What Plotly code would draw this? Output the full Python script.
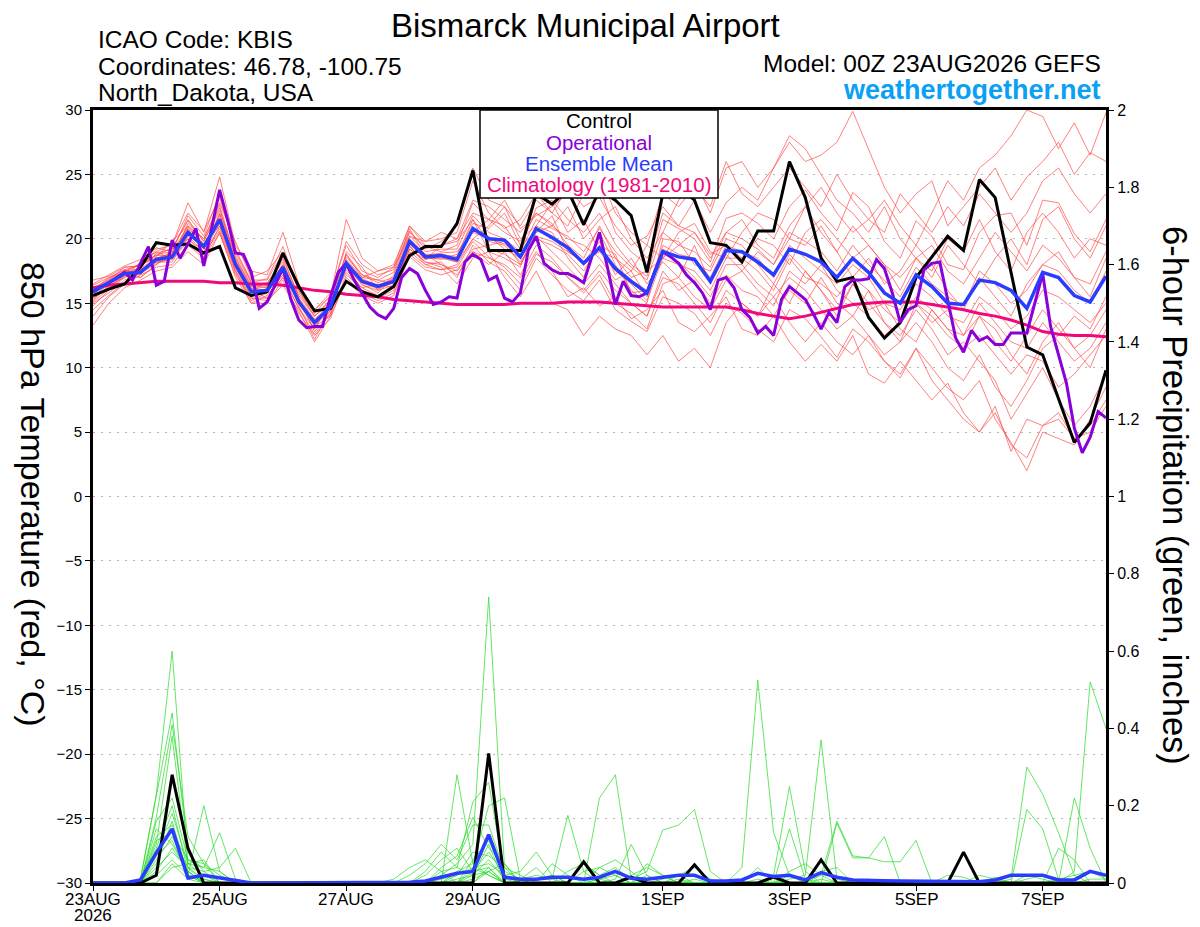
import plotly.graph_objects as go

# ---------------- time axes (hours since 00Z 23AUG2026) ----------------
hours6 = list(range(0, 385, 6))     # ensemble: 6-hourly, 65 steps
hours3 = list(range(0, 385, 3))     # operational: 3-hourly, 129 steps

tick_hours = [0, 48, 96, 144, 216, 264, 312, 360]
tick_labels = ["23AUG", "25AUG", "27AUG", "29AUG", "1SEP", "3SEP", "5SEP", "7SEP"]
year_label = "2026"
temp_ticks = [-30, -25, -20, -15, -10, -5, 0, 5, 10, 15, 20, 25, 30]
precip_ticks = [0, 0.2, 0.4, 0.6, 0.8, 1, 1.2, 1.4, 1.6, 1.8, 2]
precip_labels = ["0", "0.2", "0.4", "0.6", "0.8", "1", "1.2", "1.4", "1.6", "1.8", "2"]

# ---------------- 850 hPa temperature (°C) ----------------
control_t = [15.6, 16.1, 16.5, 17.8, 19.7, 19.5, 19.6, 18.9, 19.4, 16.2, 15.6, 15.9, 18.9,
             16.3, 14.4, 14.6, 16.7, 15.9, 15.5, 16.3, 18.7, 19.4, 19.4, 21.2, 25.3, 19.1,
             19.1, 19.1, 23.5, 22.7, 23.8, 21.1, 23.8, 23.0, 21.8, 17.4, 23.5, 24.0, 23.0,
             19.7, 19.5, 18.2, 20.6, 20.6, 26.0, 23.2, 18.5, 16.7, 17.0, 13.9, 12.3, 13.5,
             17.0, 18.6, 20.2, 19.1, 24.6, 23.2, 17.4, 11.6, 11.0, 7.6, 4.2, 5.7, 9.8]

mean_t = [15.9, 16.6, 17.3, 17.4, 18.4, 18.6, 20.5, 19.4, 21.5, 18.0, 15.9, 16.0, 17.8,
          15.1, 13.5, 14.7, 18.1, 16.7, 16.3, 16.7, 19.8, 18.6, 18.7, 18.4, 20.8, 20.0,
          19.9, 18.6, 20.8, 20.1, 19.3, 18.1, 19.3, 17.7, 16.7, 15.8, 19.0, 18.6, 18.4,
          16.7, 19.1, 19.0, 18.2, 17.2, 19.2, 18.8, 18.2, 17.0, 18.5, 17.4, 15.8, 15.0,
          17.2, 16.3, 15.0, 14.9, 16.8, 16.6, 16.0, 14.6, 17.4, 17.0, 15.6, 15.1, 17.1]

clim_t = [16.2, 16.4, 16.5, 16.6, 16.7, 16.7, 16.7, 16.7, 16.6, 16.6, 16.5, 16.5, 16.4,
          16.2, 16.0, 15.9, 15.7, 15.6, 15.5, 15.3, 15.2, 15.1, 15.0, 14.9, 14.9, 14.9,
          14.9, 15.0, 15.0, 15.0, 15.1, 15.1, 15.1, 15.0, 14.9, 14.8, 14.7, 14.7, 14.7,
          14.7, 14.7, 14.5, 14.2, 14.0, 13.8, 14.0, 14.3, 14.6, 14.9, 15.0, 15.1, 15.1,
          15.1, 14.9, 14.7, 14.5, 14.2, 14.0, 13.7, 13.3, 12.8, 12.6, 12.5, 12.5, 12.4]

oper_t = [15.9, 16.3, 16.6, 17.0, 17.4, 16.8, 18.1, 19.4, 16.4, 16.7, 19.9, 18.5, 19.6,
          20.8, 17.9, 20.9, 23.8, 21.5, 18.9, 18.8, 17.4, 14.6, 15.1, 16.4, 17.7, 15.3,
          13.7, 13.1, 13.2, 13.2, 15.5, 17.4, 18.1, 16.8, 15.8, 14.7, 14.1, 13.8, 14.6,
          17.0, 17.7, 17.3, 16.0, 14.9, 15.1, 15.5, 15.4, 18.2, 18.8, 18.4, 16.8, 17.1,
          15.4, 15.1, 15.8, 19.1, 20.2, 18.1, 17.6, 17.3, 17.3, 17.0, 16.6, 18.6, 20.5,
          17.8, 14.9, 16.7, 15.6, 15.5, 15.8, 17.5, 19.0, 18.6, 18.1, 17.2, 16.6, 15.8,
          14.5, 16.8, 17.0, 16.2, 14.5, 13.9, 12.7, 13.2, 12.5, 15.3, 16.3, 15.8, 15.3,
          14.2, 13.0, 14.3, 13.5, 16.3, 16.8, 16.8, 16.9, 18.4, 17.7, 15.8, 13.5, 14.5,
          14.8, 17.6, 18.1, 18.2, 15.3, 12.3, 11.2, 12.9, 12.1, 12.4, 11.8, 11.8, 12.7,
          12.7, 12.7, 15.0, 17.3, 13.2, 11.1, 8.8, 5.3, 3.4, 4.6, 6.6, 6.1]

members_t = [
    [14.8, 16.0, 17.0, 18.2, 19.0, 18.4, 21.2, 20.0, 22.6, 18.5, 16.3, 16.5, 18.6, 15.5, 12.8, 14.2, 19.0, 17.8, 16.0, 17.2, 20.5, 19.4, 19.0,
     19.5, 22.8, 21.5, 21.0, 19.2, 22.4, 23.0, 21.5, 20.5, 22.0, 19.6, 18.0, 17.1, 21.5, 20.8, 20.0, 18.2, 21.6,
     22.0, 21.2, 20.0, 22.5, 23.8, 22.0, 20.6, 23.6, 22.5, 19.8, 18.5, 21.4, 20.2, 18.0, 17.6, 20.5, 21.8, 22.0, 19.5, 23.0, 22.8, 20.4, 19.0, 21.5],
    [15.2, 16.4, 17.6, 17.0, 18.0, 19.2, 20.0, 18.8, 20.6, 17.4, 15.0, 15.6, 17.2, 14.6, 13.0, 15.0, 17.4, 16.0, 15.4, 16.0, 19.0, 18.0, 18.2,
     17.0, 19.5, 18.2, 17.5, 16.0, 18.5, 17.2, 16.0, 15.2, 16.8, 14.5, 13.6, 12.8, 15.5, 15.0, 14.2, 12.5, 15.0,
     14.2, 13.0, 12.0, 14.5, 13.8, 12.4, 10.8, 13.0, 12.0, 10.5, 9.2, 11.5, 10.0, 8.4, 7.5, 9.0, 6.0, 4.2, 2.0, 5.0, 4.5, 4.0, 6.0, 8.5],
    [15.6, 16.8, 17.8, 17.9, 18.8, 19.0, 21.8, 20.2, 23.5, 19.0, 16.8, 16.8, 18.9, 16.0, 14.0, 15.3, 18.8, 17.0, 17.5, 17.8, 20.2, 19.8, 20.0,
     20.5, 24.5, 22.0, 20.8, 21.5, 23.5, 22.0, 24.0, 22.5, 23.2, 21.0, 19.5, 20.2, 22.5, 21.0, 23.0, 20.5, 22.8,
     24.0, 23.0, 25.5, 27.5, 26.0, 26.5, 27.5, 29.9, 27.0, 24.0, 22.0, 23.5, 24.5, 21.0, 22.5, 24.0, 25.5, 23.0, 24.8, 26.0, 27.5, 25.0, 26.7, 26.0],
    [15.0, 15.8, 16.8, 17.5, 18.6, 19.8, 21.0, 19.6, 21.0, 18.2, 16.0, 15.4, 17.0, 15.2, 13.2, 14.0, 18.6, 17.2, 16.8, 16.5, 19.5, 18.0, 17.6,
     18.0, 20.0, 21.0, 22.5, 20.0, 21.0, 22.8, 20.5, 21.5, 19.0, 18.5, 17.5, 19.5, 18.5, 20.5, 21.2, 19.0, 18.5,
     20.5, 22.0, 21.5, 20.0, 22.5, 24.0, 22.0, 20.5, 21.5, 23.0, 21.0, 19.5, 22.0, 24.5, 23.0, 25.5, 26.5, 28.0, 30.0, 29.5, 27.0, 29.0, 26.5, 29.8],
    [14.0, 15.5, 16.5, 17.2, 17.8, 18.0, 19.5, 18.5, 21.0, 17.8, 15.5, 16.2, 18.0, 14.8, 12.2, 14.5, 17.8, 16.5, 15.8, 17.0, 20.0, 18.8, 18.0,
     17.2, 19.0, 18.5, 18.0, 17.0, 19.0, 17.5, 15.5, 16.2, 14.8, 15.5, 13.8, 14.5, 16.0, 13.5, 12.8, 14.0, 15.5,
     13.0, 12.5, 14.0, 12.0, 10.5, 11.8, 10.5, 12.5, 9.5, 8.8, 10.5, 9.0, 7.5, 8.8, 6.5, 5.0, 7.0, 3.5, 6.0, 5.5, 6.5, 4.5, 5.5, 7.5],
    [16.2, 16.8, 17.5, 18.0, 18.5, 18.8, 20.8, 19.2, 22.0, 18.6, 16.4, 16.2, 17.5, 15.8, 14.0, 15.0, 18.0, 16.4, 16.0, 16.4, 19.2, 18.4, 19.5,
     19.8, 21.5, 19.0, 18.5, 17.8, 21.0, 20.5, 18.5, 17.0, 20.5, 18.0, 16.0, 15.0, 20.0, 19.8, 18.0, 17.5, 20.0,
     19.5, 18.0, 16.5, 18.8, 17.5, 16.0, 14.5, 16.5, 15.0, 13.5, 12.0, 15.0, 14.0, 12.5, 11.5, 14.0, 13.0, 11.0, 9.5, 12.0, 13.5, 11.5, 10.0, 13.0],
    [15.4, 16.2, 17.2, 17.8, 19.2, 19.5, 22.8, 20.5, 24.8, 19.5, 17.5, 17.2, 20.5, 16.5, 14.5, 15.5, 21.5, 18.5, 17.5, 18.0, 21.0, 19.5, 19.5,
     20.0, 23.0, 22.5, 21.5, 20.5, 22.0, 21.0, 22.5, 20.0, 21.5, 22.5, 20.0, 18.5, 20.5, 23.0, 24.5, 22.0, 25.5,
     26.0, 24.0, 25.5, 28.0, 27.0, 25.0, 23.0, 22.0, 20.5, 22.5, 20.0, 18.5, 17.5, 20.0, 19.0, 21.5, 19.0, 17.5, 20.5, 22.0, 20.5, 18.5, 20.0, 19.5],
    [15.5, 16.5, 17.4, 17.6, 18.2, 18.2, 20.2, 19.0, 21.2, 17.5, 15.2, 15.8, 17.4, 15.0, 13.0, 15.2, 17.6, 16.2, 16.5, 16.2, 19.4, 18.2, 17.8,
     16.5, 18.5, 19.0, 17.0, 15.5, 17.5, 15.0, 14.5, 12.5, 14.0, 13.0, 12.5, 11.0, 12.5, 10.5, 11.5, 10.0, 13.5,
     15.0, 14.0, 16.5, 15.0, 17.5, 16.0, 14.0, 16.5, 14.5, 15.0, 13.0, 12.0, 14.5, 13.0, 11.5, 12.5, 11.0, 9.5, 11.0, 10.5, 8.5, 9.5, 11.0, 12.5],
    [16.0, 17.0, 17.6, 17.2, 18.9, 19.2, 21.5, 19.8, 22.4, 18.2, 16.0, 16.6, 18.2, 15.4, 13.8, 14.6, 18.4, 17.0, 16.8, 17.4, 20.8, 18.6, 18.4,
     18.8, 21.2, 20.8, 22.0, 19.5, 20.5, 21.8, 19.0, 18.2, 19.8, 17.2, 18.5, 16.5, 18.2, 17.0, 19.5, 16.5, 18.8,
     17.5, 19.0, 18.0, 20.0, 19.5, 21.0, 19.0, 17.0, 18.5, 16.5, 17.5, 19.5, 18.0, 16.0, 14.5, 17.0, 15.5, 14.0, 16.5, 18.0, 19.0, 17.0, 15.5, 18.5],
    [13.3, 15.0, 16.2, 16.8, 17.5, 17.8, 19.0, 18.0, 20.5, 17.0, 15.0, 15.0, 16.8, 14.2, 12.5, 13.8, 17.0, 15.8, 15.2, 15.8, 18.6, 17.6, 17.2,
     17.6, 19.2, 19.5, 19.8, 18.0, 20.2, 19.0, 17.8, 16.5, 18.0, 16.5, 15.0, 14.0, 17.5, 16.0, 16.8, 15.0, 17.2,
     16.0, 15.5, 14.0, 16.0, 15.0, 17.0, 15.0, 14.0, 16.0, 13.5, 12.5, 14.5, 13.0, 11.0, 12.0, 10.5, 9.0, 6.0, 8.0, 10.0, 7.5, 5.5, 7.0, 9.5],
    [16.5, 17.2, 17.9, 18.4, 19.3, 19.0, 21.0, 20.0, 22.8, 19.8, 17.0, 17.5, 19.0, 16.2, 14.5, 15.8, 19.5, 17.5, 17.0, 17.8, 21.0, 19.8, 20.5,
     20.0, 22.0, 21.5, 23.0, 20.8, 21.8, 22.5, 23.5, 21.0, 24.0, 20.5, 19.0, 18.0, 22.0, 21.0, 20.5, 18.5, 20.5,
     21.5, 19.5, 18.5, 21.0, 22.5, 20.5, 19.0, 21.0, 19.5, 18.0, 16.0, 18.5, 17.0, 19.5, 18.0, 16.5, 18.5, 20.0, 18.0, 21.5, 22.5, 20.0, 18.5, 21.0],
    [15.1, 16.1, 17.1, 17.0, 18.0, 18.8, 20.6, 19.6, 21.4, 18.4, 16.2, 16.0, 17.6, 15.0, 13.3, 14.4, 18.2, 16.6, 16.1, 16.6, 19.6, 18.4, 18.6,
     18.2, 20.0, 19.2, 18.8, 18.0, 20.5, 21.0, 20.0, 19.5, 18.5, 16.8, 17.5, 15.5, 19.0, 18.2, 17.0, 15.5, 18.0,
     18.0, 16.5, 15.5, 17.0, 16.0, 14.5, 13.0, 14.0, 12.5, 11.0, 12.0, 13.5, 12.0, 10.0, 9.0, 11.0, 8.5, 7.0, 9.0, 11.5, 12.5, 14.0, 13.0, 15.5],
    [15.8, 16.4, 17.0, 17.6, 18.4, 18.6, 20.4, 19.2, 21.8, 18.0, 15.6, 15.8, 17.8, 15.2, 13.6, 14.8, 17.8, 16.8, 16.4, 16.8, 19.8, 18.8, 18.8,
     18.6, 21.5, 19.8, 19.5, 18.2, 20.0, 19.5, 18.8, 17.5, 19.5, 18.8, 15.8, 16.0, 19.5, 18.8, 18.5, 17.0, 19.5,
     19.0, 18.5, 17.0, 19.5, 18.5, 17.5, 16.5, 18.0, 17.0, 15.0, 14.5, 16.5, 15.5, 14.0, 13.5, 15.5, 14.5, 13.0, 14.0, 16.0, 15.5, 14.5, 13.5, 15.0],
    [16.0, 16.9, 17.6, 18.0, 19.0, 19.6, 22.0, 20.6, 23.2, 19.2, 16.6, 16.9, 19.4, 16.0, 14.2, 15.6, 19.8, 18.0, 17.2, 17.6, 20.6, 19.2, 19.8,
     21.0, 25.5, 23.0, 22.5, 21.0, 23.0, 22.0, 21.0, 23.5, 25.0, 22.0, 20.5, 19.5, 23.5, 22.5, 24.0, 22.5, 26.0,
     23.5, 22.5, 24.0, 25.5, 24.0, 22.5, 25.0, 23.0, 21.5, 20.5, 23.5, 22.0, 20.5, 22.5, 21.0, 23.5, 22.0, 20.5, 22.0, 24.5, 25.5, 23.5, 22.0, 23.5],
    [14.5, 15.6, 16.6, 17.4, 18.2, 18.4, 19.8, 18.6, 20.4, 17.2, 15.4, 15.2, 16.4, 14.4, 12.0, 14.0, 16.8, 15.6, 15.0, 15.6, 18.8, 17.8, 17.6,
     17.8, 19.8, 18.6, 17.8, 16.5, 18.8, 18.2, 17.0, 15.8, 17.2, 15.0, 14.2, 13.0, 16.5, 17.0, 15.5, 14.5, 16.8,
     17.5, 16.0, 14.8, 17.5, 16.5, 18.0, 16.0, 15.0, 14.0, 12.5, 13.5, 15.0, 13.5, 14.5, 12.5, 14.0, 12.0, 10.5, 12.5, 14.5, 13.0, 11.5, 12.5, 14.5],
    [16.8, 17.1, 17.8, 17.9, 18.7, 19.3, 21.4, 19.8, 22.2, 18.8, 16.6, 16.4, 18.4, 15.6, 14.0, 15.2, 18.8, 17.2, 16.6, 17.0, 20.2, 19.0, 19.2,
     19.2, 21.8, 20.5, 20.0, 19.0, 21.5, 20.8, 20.2, 19.0, 20.8, 19.0, 17.8, 16.8, 20.5, 19.5, 19.0, 17.8, 20.5,
     20.0, 19.2, 18.0, 20.5, 19.8, 19.0, 17.5, 19.5, 18.0, 16.8, 15.5, 17.8, 16.5, 15.5, 14.8, 17.5, 16.5, 15.0, 16.0, 18.0, 17.5, 16.0, 15.0, 17.5],
    [15.3, 16.3, 17.2, 17.3, 18.1, 18.5, 20.0, 19.0, 20.8, 17.6, 15.4, 15.4, 17.0, 14.6, 12.6, 14.2, 17.2, 16.2, 15.6, 16.4, 19.2, 18.2, 18.0,
     17.5, 19.0, 18.0, 19.0, 17.2, 19.5, 18.5, 17.0, 16.0, 17.5, 16.0, 15.0, 14.0, 17.0, 16.5, 15.0, 13.5, 16.0,
     15.0, 14.0, 15.5, 13.5, 12.0, 13.5, 12.0, 11.0, 12.5, 10.5, 9.5, 11.5, 9.0, 7.5, 6.0, 5.0, 6.5, 4.0, 3.0, 5.5, 6.0, 4.5, 5.0, 7.0],
    [15.7, 16.7, 17.5, 17.7, 18.5, 18.9, 20.9, 19.5, 21.6, 18.3, 16.1, 16.3, 18.0, 15.3, 13.7, 15.0, 18.3, 16.9, 16.4, 16.9, 19.9, 18.7, 18.9,
     19.0, 20.5, 21.5, 20.5, 19.8, 22.0, 21.2, 19.5, 18.5, 21.0, 18.5, 17.0, 17.5, 18.5, 19.5, 20.5, 18.8, 19.5,
     18.5, 20.0, 19.5, 18.0, 20.5, 21.5, 20.0, 18.5, 19.5, 18.0, 17.0, 18.5, 19.5, 17.5, 16.5, 18.5, 20.5, 19.0, 17.5, 19.5, 18.5, 17.0, 16.5, 19.0],
    [16.4, 17.0, 17.4, 18.1, 18.7, 18.7, 20.7, 19.3, 21.9, 18.1, 15.8, 16.1, 17.9, 15.1, 13.4, 14.7, 18.0, 16.6, 16.2, 16.6, 19.7, 18.5, 18.5,
     18.2, 20.8, 20.2, 19.2, 18.5, 20.2, 19.8, 19.0, 18.2, 19.0, 17.5, 16.5, 15.2, 18.5, 18.0, 17.5, 16.0, 18.5,
     18.5, 17.5, 16.0, 18.5, 17.0, 16.5, 15.5, 17.0, 16.0, 14.5, 13.5, 15.5, 14.5, 13.0, 12.5, 15.0, 13.5, 12.0, 11.5, 13.5, 12.0, 10.5, 11.5, 13.5],
    [15.9, 16.6, 17.3, 17.5, 18.3, 18.6, 20.3, 19.4, 21.3, 18.0, 15.9, 16.0, 17.7, 15.1, 13.5, 14.7, 18.1, 16.7, 16.3, 16.7, 19.8, 18.6, 18.7,
     18.5, 20.5, 20.0, 19.6, 18.8, 20.9, 20.0, 19.5, 18.0, 19.2, 17.8, 16.8, 16.0, 19.2, 18.6, 18.4, 16.8, 19.0,
     19.0, 18.2, 17.2, 19.2, 18.8, 18.2, 17.0, 18.5, 17.4, 15.8, 15.0, 17.2, 16.3, 15.0, 14.9, 16.8, 16.6, 16.0, 14.6, 17.4, 17.0, 15.6, 15.1, 17.1],
]

# ---------------- 6-hour precipitation (inches) ----------------
control_p = [0, 0, 0, 0, 0.02, 0.28, 0.09, 0, 0, 0, 0, 0, 0,
             0, 0, 0, 0, 0, 0, 0, 0, 0, 0, 0, 0, 0.335,
             0, 0, 0, 0, 0, 0.055, 0, 0, 0.015, 0, 0, 0, 0.047,
             0, 0, 0, 0, 0.015, 0, 0, 0.06, 0, 0, 0, 0, 0,
             0, 0, 0, 0.08, 0, 0, 0, 0, 0, 0, 0, 0, 0]

mean_p = [0, 0, 0, 0.008, 0.078, 0.14, 0.013, 0.02, 0.013, 0.008, 0, 0, 0,
          0, 0, 0, 0, 0, 0, 0, 0.002, 0.005, 0.015, 0.025, 0.03, 0.125,
          0.015, 0.01, 0.01, 0.015, 0.015, 0.01, 0.015, 0.03, 0.012, 0.01, 0.015, 0.02, 0.02,
          0.005, 0.005, 0.008, 0.025, 0.017, 0.02, 0.008, 0.027, 0.015, 0.008, 0.008, 0.006, 0.005,
          0.005, 0.003, 0.004, 0.004, 0.003, 0.008, 0.02, 0.02, 0.02, 0.008, 0.008, 0.03, 0.02]

members_p = [
    [0, 0, 0, 0.01, 0.23, 0.60, 0.05, 0.02, 0, 0, 0, 0, 0,
     0, 0, 0, 0, 0, 0, 0, 0, 0, 0.02, 0.05, 0.10, 0.74,
     0.04, 0, 0.01, 0.02, 0, 0, 0.01, 0.02, 0, 0, 0.01, 0.02, 0,
     0, 0, 0.04, 0.525, 0.13, 0.02, 0, 0.01, 0, 0, 0, 0, 0,
     0, 0, 0, 0, 0, 0, 0, 0, 0, 0.01, 0.02, 0.03, 0.01],
    [0, 0, 0, 0.01, 0.23, 0.44, 0.08, 0.03, 0, 0, 0, 0, 0,
     0, 0, 0, 0, 0, 0, 0, 0, 0.03, 0.08, 0.04, 0.21, 0.26,
     0.02, 0.03, 0.08, 0.02, 0, 0, 0.22, 0.28, 0.01, 0, 0, 0, 0,
     0, 0, 0, 0, 0.02, 0.25, 0.03, 0, 0, 0, 0.01, 0, 0,
     0, 0, 0, 0, 0, 0, 0.01, 0.30, 0.23, 0.13, 0.02, 0, 0],
    [0, 0, 0, 0, 0.17, 0.41, 0.12, 0.05, 0.02, 0, 0, 0, 0,
     0, 0, 0, 0, 0, 0, 0, 0, 0, 0, 0.28, 0.05, 0.20,
     0.22, 0.01, 0.02, 0.01, 0.175, 0.03, 0, 0.01, 0.10, 0.02, 0, 0, 0.01,
     0, 0, 0, 0.01, 0, 0.01, 0.02, 0.37, 0.01, 0, 0, 0, 0,
     0, 0, 0, 0, 0, 0, 0, 0, 0, 0, 0.03, 0.52, 0.40],
    [0, 0, 0, 0, 0.10, 0.38, 0.04, 0, 0, 0, 0, 0, 0,
     0, 0, 0, 0, 0, 0, 0, 0.02, 0.05, 0.10, 0.06, 0.15, 0.15,
     0.03, 0.01, 0.04, 0, 0, 0.05, 0.02, 0.04, 0.01, 0.03, 0.137, 0.15, 0.19,
     0.03, 0, 0, 0, 0, 0.14, 0.01, 0, 0.155, 0.065, 0.065, 0.12, 0,
     0, 0, 0, 0, 0, 0, 0, 0.02, 0.01, 0, 0, 0, 0],
    [0, 0, 0, 0, 0.16, 0.22, 0.06, 0.05, 0, 0, 0, 0, 0,
     0, 0, 0, 0, 0, 0, 0, 0, 0, 0.04, 0.07, 0.17, 0.09,
     0.05, 0, 0.01, 0.01, 0, 0, 0, 0, 0, 0, 0, 0.02, 0.04,
     0.01, 0, 0, 0, 0, 0, 0, 0.02, 0.16, 0.07, 0.065, 0.055, 0.055,
     0.11, 0, 0.02, 0.015, 0, 0.015, 0, 0.19, 0.14, 0.01, 0, 0, 0],
    [0, 0, 0, 0, 0.12, 0.15, 0.02, 0.20, 0.03, 0, 0, 0, 0,
     0, 0, 0, 0, 0, 0, 0.01, 0.04, 0.06, 0.03, 0, 0.06, 0.11,
     0.02, 0, 0, 0.05, 0.02, 0, 0, 0, 0, 0.02, 0, 0.01, 0,
     0, 0, 0, 0, 0, 0, 0, 0, 0, 0, 0, 0, 0,
     0, 0, 0, 0, 0, 0, 0, 0, 0, 0.09, 0.06, 0, 0],
    [0, 0, 0, 0, 0.08, 0.18, 0.05, 0.04, 0.13, 0.01, 0, 0, 0,
     0, 0, 0, 0, 0, 0, 0, 0, 0, 0, 0.02, 0.08, 0.07,
     0.04, 0.02, 0, 0, 0, 0, 0, 0, 0, 0, 0, 0, 0,
     0, 0, 0, 0.04, 0, 0, 0, 0, 0, 0, 0, 0, 0,
     0, 0, 0, 0, 0, 0, 0, 0, 0, 0, 0.22, 0.09, 0],
    [0, 0, 0, 0, 0.06, 0.12, 0.04, 0.03, 0.04, 0.09, 0, 0, 0,
     0, 0, 0, 0, 0, 0, 0, 0, 0.02, 0.06, 0.09, 0.03, 0.04,
     0, 0, 0, 0, 0, 0, 0.01, 0, 0, 0, 0, 0, 0,
     0, 0, 0, 0, 0, 0.02, 0, 0, 0, 0, 0, 0, 0,
     0, 0, 0, 0, 0, 0, 0, 0, 0, 0, 0, 0, 0],
    [0, 0, 0, 0, 0.14, 0.10, 0.03, 0, 0, 0, 0, 0, 0,
     0, 0, 0, 0, 0, 0, 0, 0, 0, 0, 0, 0.04, 0.05,
     0.02, 0, 0, 0, 0, 0, 0, 0, 0, 0, 0, 0, 0,
     0, 0, 0, 0, 0, 0, 0, 0, 0, 0, 0, 0, 0,
     0, 0, 0, 0, 0, 0, 0, 0, 0, 0, 0, 0, 0],
    [0, 0, 0, 0, 0.04, 0.08, 0.04, 0.01, 0, 0, 0, 0, 0,
     0, 0, 0, 0, 0, 0, 0, 0, 0, 0.03, 0.04, 0.02, 0.03,
     0, 0, 0, 0, 0, 0, 0.04, 0.06, 0.03, 0, 0, 0, 0,
     0, 0, 0, 0, 0, 0.03, 0.05, 0.02, 0, 0, 0, 0, 0,
     0, 0, 0, 0, 0, 0, 0, 0, 0, 0, 0, 0, 0],
    [0, 0, 0, 0, 0.02, 0.06, 0.02, 0, 0, 0, 0, 0, 0,
     0, 0, 0, 0, 0, 0, 0, 0, 0, 0, 0, 0.02, 0.06,
     0.01, 0, 0, 0, 0, 0, 0, 0, 0, 0, 0, 0, 0,
     0, 0, 0, 0, 0, 0, 0, 0, 0, 0, 0, 0, 0,
     0, 0, 0, 0, 0, 0, 0, 0, 0, 0, 0, 0, 0],
    [0, 0, 0, 0, 0.11, 0.13, 0.06, 0.04, 0.03, 0, 0, 0, 0,
     0, 0, 0, 0, 0, 0, 0, 0, 0, 0, 0.03, 0.05, 0.02,
     0, 0, 0, 0, 0, 0, 0, 0, 0, 0.05, 0.02, 0, 0,
     0, 0, 0, 0, 0, 0, 0, 0, 0, 0, 0, 0, 0,
     0, 0, 0, 0, 0, 0, 0, 0, 0, 0, 0, 0, 0],
    [0, 0, 0, 0, 0, 0.04, 0.05, 0.06, 0, 0, 0, 0, 0,
     0, 0, 0, 0, 0, 0, 0, 0, 0, 0, 0, 0, 0.03,
     0.05, 0, 0, 0, 0, 0.03, 0.04, 0.02, 0, 0, 0, 0, 0,
     0, 0, 0, 0, 0, 0, 0, 0, 0, 0, 0, 0, 0,
     0, 0, 0, 0, 0.02, 0.01, 0, 0, 0, 0, 0, 0, 0],
    [0, 0, 0, 0, 0.09, 0.20, 0.03, 0, 0, 0, 0, 0, 0,
     0, 0, 0, 0, 0, 0, 0, 0, 0, 0, 0.01, 0.02, 0.10,
     0, 0, 0, 0, 0, 0, 0, 0, 0, 0, 0, 0, 0,
     0, 0, 0, 0, 0, 0, 0, 0, 0, 0, 0, 0, 0,
     0, 0, 0, 0, 0, 0, 0, 0, 0, 0, 0, 0, 0],
    [0, 0, 0, 0, 0, 0.05, 0.01, 0, 0, 0, 0, 0, 0,
     0, 0, 0, 0, 0, 0, 0, 0, 0, 0, 0, 0, 0.04,
     0, 0, 0, 0, 0, 0, 0, 0, 0, 0, 0, 0, 0,
     0, 0, 0, 0, 0, 0, 0, 0, 0, 0, 0, 0, 0,
     0, 0, 0, 0, 0, 0, 0, 0, 0, 0, 0, 0, 0],
    [0, 0, 0, 0, 0.05, 0.16, 0.02, 0, 0, 0, 0, 0, 0,
     0, 0, 0, 0, 0, 0, 0, 0, 0, 0.01, 0.02, 0.04, 0.02,
     0, 0, 0, 0, 0, 0, 0, 0, 0, 0, 0, 0, 0,
     0, 0, 0, 0, 0, 0, 0, 0, 0, 0, 0, 0, 0,
     0, 0, 0, 0, 0, 0, 0, 0, 0, 0, 0, 0, 0],
    [0, 0, 0, 0, 0.03, 0.09, 0.03, 0, 0, 0, 0, 0, 0,
     0, 0, 0, 0, 0, 0, 0, 0, 0, 0, 0, 0.03, 0.08,
     0.02, 0, 0, 0, 0.03, 0.05, 0.02, 0, 0.02, 0.04, 0.02, 0, 0,
     0, 0, 0, 0, 0, 0, 0, 0.03, 0.04, 0, 0, 0, 0,
     0, 0, 0, 0, 0, 0, 0, 0, 0, 0, 0, 0, 0],
    [0, 0, 0, 0, 0.07, 0.11, 0.02, 0.01, 0, 0, 0, 0, 0,
     0, 0, 0, 0, 0, 0, 0, 0, 0, 0, 0, 0.01, 0.03,
     0, 0, 0, 0, 0, 0, 0, 0, 0, 0, 0, 0, 0,
     0, 0, 0, 0, 0, 0, 0, 0, 0, 0, 0, 0, 0,
     0, 0, 0, 0, 0, 0, 0, 0.01, 0.02, 0.01, 0, 0.01, 0.01],
]

# ---------------- colours ----------------
RED = "rgba(255,70,70,0.85)"
GREEN = "rgba(40,220,40,0.9)"
BLACK = "#000000"
PURPLE = "#8a00d8"
BLUE = "#2a3cff"
MAGENTA = "#f0087c"
FONT = "Liberation Sans, Arial, Helvetica, sans-serif"

fig = go.Figure()

for m in members_t:
    fig.add_trace(go.Scatter(x=hours6, y=m, mode="lines", line=dict(color=RED, width=0.8),
                             yaxis="y", hoverinfo="skip", showlegend=False))
for m in members_p:
    fig.add_trace(go.Scatter(x=hours6, y=m, mode="lines", line=dict(color=GREEN, width=0.8),
                             yaxis="y2", hoverinfo="skip", showlegend=False))

fig.add_trace(go.Scatter(x=hours6, y=clim_t, mode="lines", line=dict(color=MAGENTA, width=3), yaxis="y", showlegend=False))
fig.add_trace(go.Scatter(x=hours6, y=control_t, mode="lines", line=dict(color=BLACK, width=3), yaxis="y", showlegend=False))
fig.add_trace(go.Scatter(x=hours3, y=oper_t, mode="lines", line=dict(color=PURPLE, width=3), yaxis="y", showlegend=False))
fig.add_trace(go.Scatter(x=hours6, y=mean_t, mode="lines", line=dict(color=BLUE, width=3.5), yaxis="y", showlegend=False))
fig.add_trace(go.Scatter(x=hours6, y=control_p, mode="lines", line=dict(color=BLACK, width=3), yaxis="y2", showlegend=False))
fig.add_trace(go.Scatter(x=hours6, y=mean_p, mode="lines", line=dict(color=BLUE, width=3.5), yaxis="y2", showlegend=False))

# page body has an 8px margin; plot area should land at page x 93..1106, y 110..883
OFF = 8
W, H = 1200 - OFF, 927 - OFF
L, T = 93 - OFF, 110 - OFF
pw, ph = 1013, 773
R, B = W - L - pw, H - T - ph


def px(sx):
    return (sx - 93) / pw


def py(sy):
    return (883 - sy) / ph


fig.update_layout(
    width=W, height=H,
    margin=dict(l=L, r=R, t=T, b=B, pad=0, autoexpand=False),
    paper_bgcolor="white", plot_bgcolor="white",
    font=dict(family=FONT, color="black"),
    showlegend=False,
    xaxis=dict(range=[0, 384], tickvals=tick_hours, ticks="outside", showticklabels=False,
               ticklen=5, tickwidth=1, tickcolor="black", showgrid=False, zeroline=False,
               showline=True, linecolor="black", linewidth=3, mirror=True, automargin=False),
    yaxis=dict(range=[-30, 30], tickvals=temp_ticks, ticks="outside", ticklen=5, tickwidth=1,
               tickcolor="black", showgrid=True, gridcolor="#b4b4b4", griddash="2px,6px", gridwidth=1,
               zeroline=False, showline=True, linecolor="black", linewidth=3, automargin=False,
               tickfont=dict(size=15, family=FONT)),
    yaxis2=dict(range=[0, 2], overlaying="y", side="right", tickvals=precip_ticks, ticktext=precip_labels,
                ticks="outside", ticklen=5, tickwidth=1, tickcolor="black", showgrid=False,
                zeroline=False, showline=True, linecolor="black", linewidth=3, automargin=False,
                tickfont=dict(size=16, family=FONT)),
)

# date labels placed on the x scale, just below the axis
for hv, lab in zip(tick_hours, tick_labels):
    fig.add_annotation(text=lab, xref="x", yref="paper", x=hv, y=py(899), showarrow=False,
                       xanchor="center", yanchor="middle", font=dict(size=17, family=FONT))
fig.add_annotation(text=year_label, xref="x", yref="paper", x=tick_hours[0], y=py(916), showarrow=False,
                   xanchor="center", yanchor="middle", font=dict(size=17, family=FONT))

# legend box (drawn over the lines)
fig.add_shape(type="rect", xref="paper", yref="paper", x0=px(480), x1=px(718), y0=py(198), y1=py(110),
              fillcolor="white", line=dict(color="black", width=1.5), layer="above")

legend_items = [("Control", BLACK, 121), ("Operational", PURPLE, 142),
                ("Ensemble Mean", BLUE, 163), ("Climatology (1981-2010)", MAGENTA, 185)]
for txt, col, yy in legend_items:
    fig.add_annotation(text=txt, xref="paper", yref="paper", x=px(599), y=py(yy), showarrow=False,
                       xanchor="center", yanchor="middle", font=dict(size=20.5, color=col, family=FONT))

# header texts
fig.add_annotation(text="Bismarck Municipal Airport", xref="paper", yref="paper", x=px(585), y=py(25),
                   showarrow=False, xanchor="center", yanchor="middle", font=dict(size=33, family=FONT))
for txt, yy in [("ICAO Code: KBIS", 40), ("Coordinates: 46.78, -100.75", 67), ("North_Dakota, USA", 93)]:
    fig.add_annotation(text=txt, xref="paper", yref="paper", x=px(96), y=py(yy), showarrow=False,
                       xanchor="left", yanchor="middle", font=dict(size=24.5, family=FONT))
fig.add_annotation(text="Model: 00Z 23AUG2026 GEFS", xref="paper", yref="paper", x=px(1103), y=py(63),
                   showarrow=False, xanchor="right", yanchor="middle", font=dict(size=24.5, family=FONT))
fig.add_annotation(text="<b>weathertogether.net</b>", xref="paper", yref="paper", x=px(1103), y=py(90),
                   showarrow=False, xanchor="right", yanchor="middle",
                   font=dict(size=27, color="#0aa0f5", family=FONT))

# axis titles
fig.add_annotation(text="850 hPa Temperature (red, °C)", xref="paper", yref="paper", x=px(33), y=py(494),
                   showarrow=False, textangle=90, xanchor="center", yanchor="middle",
                   font=dict(size=34, family=FONT))
fig.add_annotation(text="6-hour Precipitation (green, inches)", xref="paper", yref="paper", x=px(1175), y=py(495),
                   showarrow=False, textangle=90, xanchor="center", yanchor="middle",
                   font=dict(size=34.5, family=FONT))

fig.write_html("out.html")
